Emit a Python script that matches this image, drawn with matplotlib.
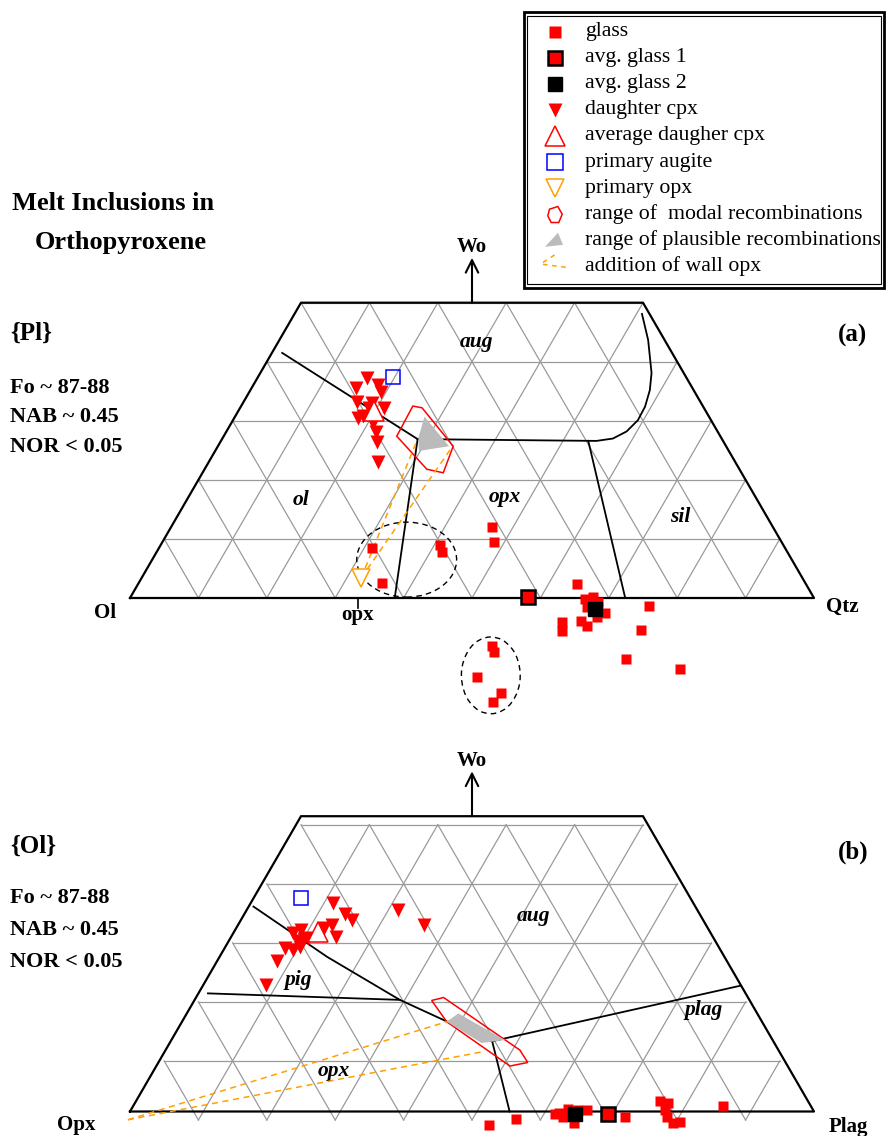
import numpy as np
import matplotlib
matplotlib.use("Agg")
import matplotlib.pyplot as plt
from matplotlib.patches import Polygon, Ellipse, Rectangle

plt.rcParams["font.family"] = "Liberation Serif"

# ---- panel (a): {Pl} projection, corners Ol - Qtz - Wo (values in %) ----
a_glass_wo = [8.5, 2.5, 9.0, 7.8, 12.0, 9.5, 2.4, -0.2, 0.2, -1.5, -2.5, -3.2, -3.9, -4.7,
              -4.1, -5.6, -1.4, -5.4, -10.3, -12.0, -0.7, -0.3, -8.1, -9.1, -13.4, -16.1, -17.6]
a_glass_qtz = [31.1, 35.6, 40.8, 41.7, 46.9, 48.5, 64.2, 66.6, 67.6, 67.6, 70.7, 69.9, 67.9, 69.2,
               65.2, 66.0, 76.6, 77.4, 77.7, 86.4, 68.8, 67.4, 57.0, 57.8, 57.4, 62.3, 61.9]
a_avg_glass1 = (0.2, 58.1)     # (Wo, Qtz)
a_avg_glass2 = (-1.9, 68.9)
a_cpx_wo = [37.3, 36.1, 35.6, 34.9, 33.2, 33.0, 32.2, 30.5, 30.8, 29.6, 28.1, 26.4, 23.0, 32.2]
a_cpx_qtz = [16.0, 18.2, 15.3, 19.3, 16.6, 18.9, 21.0, 18.1, 18.7, 20.7, 21.9, 22.9, 24.7, 18.9]
a_avg_cpx = (31.7, 19.8)
a_augite = (37.4, 19.7)
a_opx = (3.4, 32.1)
a_modal_wo = [32.5, 32.2, 25.7, 21.2, 21.8, 27.4]
a_modal_qtz = [25.1, 26.6, 34.4, 35.2, 32.5, 25.3]
a_plaus_wo = [27.1, 30.7, 25.7, 24.9]
a_plaus_qtz = [28.6, 27.7, 33.8, 29.8]
a_wall_wo = [26.8, 25.6]
a_wall_qtz = [28.6, 34.3]
a_bounds = {
    "ol-cpx": ([41.5, 26.9], [1.5, 28.6]),
    "opx-aug": ([26.9, 26.6, 27.0, 28.2, 30.1, 32.4, 35.2, 38.1, 43.7, 48.1],
                [28.6, 54.9, 57.1, 58.5, 59.2, 59.1, 58.4, 57.2, 53.9, 50.8]),
    "ol-opx": ([26.9, 0.0], [28.6, 38.7]),
    "opx-sil": ([26.6, 0.0], [53.7, 72.4]),
}
a_fields = {"aug": (43.4, 28.9), "ol": (16.6, 16.7), "opx": (17.1, 46.3), "sil": (13.7, 73.6)}

# ---- panel (b): {Ol} projection, corners Opx - Plag - Wo (values in %) ----
b_glass_wo = [-2.3, -1.2, -0.3, 0.4, 0.3, 0.3, -1.9, -0.9, -1.0, 1.7, 1.4, 0.3, -0.9, -2.0,
              -1.7, 0.9, -0.4]
b_glass_plag = [53.7, 57.0, 62.8, 63.9, 65.4, 66.6, 65.8, 63.8, 72.9, 76.7, 78.0, 78.1, 78.9,
                80.4, 81.3, 86.2, 62.3]
b_avg_glass1 = (-0.5, 70.2)
b_avg_glass2 = (-0.5, 65.3)
b_cpx_wo = [35.3, 33.4, 32.4, 34.1, 31.6, 31.6, 31.0, 29.6, 30.2, 30.7, 29.2, 28.8, 27.6, 27.4,
            27.8, 25.5, 21.5, 29.4]
b_cpx_plag = [12.0, 14.7, 16.3, 22.2, 27.2, 13.7, 12.8, 15.3, 8.8, 9.7, 10.8, 10.2, 8.8, 10.2,
              11.0, 8.8, 9.1, 11.3]
b_avg_cpx = (30.4, 12.3)
b_augite = (36.2, 6.9)
b_opx = (-1.4, 0.4)
b_modal_wo = [18.8, 19.3, 10.4, 8.3, 7.7, 15.2]
b_modal_plag = [34.7, 36.2, 51.8, 54.0, 51.7, 38.7]
b_plaus_wo = [15.2, 16.6, 12.1, 11.6]
b_plaus_plag = [38.7, 39.7, 48.8, 45.6]
b_wall_wo = [15.8, 10.1]
b_wall_plag = [40.1, 46.4]
b_bounds = {
    "aug-pig": ([34.7, 26.2, 18.9, 15.2, 11.9], [0.7, 15.7, 30.0, 38.8, 47.0]),
    "pig-opx": ([20.0, 18.9], [1.4, 30.0]),
    "aug-plag": ([11.9, 21.3], [47.0, 78.6]),
    "opx-plag": ([11.9, 0.0], [47.0, 55.5]),
}
b_fields = {"aug": (33.1, 42.4), "pig": (22.3, 13.4), "opx": (6.9, 26.3), "plag": (17.2, 75.2)}

FIG_W, FIG_H = 886, 1136
LEFT_PX, SIDE_PX, TRI_H_PX = 130, 684, 590.6
RED, ORANGE, GREY = "#ff0000", "#ffa000", "#bbbbbb"


def to_xy(wo, b):
    """ternary (Wo %, right-corner %) -> cartesian (along base, height)"""
    wo = np.asarray(wo, float)
    b = np.asarray(b, float)
    return (b + wo / 2) / 100, wo / 100


fig = plt.figure(figsize=(FIG_W / 100, FIG_H / 100), dpi=100)


def panel_axes(base_px):
    ax = fig.add_axes([0, 0, 1, 1])
    ax.set_xlim(-LEFT_PX / SIDE_PX, (FIG_W - LEFT_PX) / SIDE_PX)
    ax.set_ylim((base_px - FIG_H) / TRI_H_PX, base_px / TRI_H_PX)
    ax.axis("off")
    return ax


def draw_frame(ax, grid_shift=0.0):
    grid_kw = dict(color="#9a9a9a", lw=0.9, zorder=1)
    for k in np.arange(1, 10) / 10:
        top = min(0.5, 1 - k)
        ax.plot([k, k + top / 2], [grid_shift, top + grid_shift], **grid_kw)
        ax.plot([1 - k, 1 - k - top / 2], [grid_shift, top + grid_shift], **grid_kw)
        if k <= 0.5:
            ax.plot([k / 2, 1 - k / 2], [k + grid_shift] * 2, **grid_kw)
    ax.plot([0, 1, 0.75, 0.25, 0], [0, 0, 0.5, 0.5, 0], color="black", lw=1.6, zorder=3)
    ax.annotate("", xy=(0.5, 0.576), xytext=(0.5, 0.5),
                arrowprops=dict(arrowstyle="->,head_length=0.9,head_width=0.45", lw=1.5,
                                color="black", shrinkA=0, shrinkB=0))
    ax.text(0.5, 0.594, "Wo", ha="center", va="center", fontsize=15, fontweight="bold")


def draw_panel(ax, glass, avg1, avg2, cpx, avg_cpx, augite, modal, plaus, wall, opx, bounds, fields):
    for wo, b in bounds.values():
        ax.plot(*to_xy(wo, b), color="black", lw=1.3, zorder=3)
    for name, (wo, b) in fields.items():
        ax.text(*to_xy(wo, b), name, ha="center", va="center", fontsize=15.5,
                fontweight="bold", style="italic")
    ax.add_patch(Polygon(np.column_stack(to_xy(*modal)), closed=True, fill=False,
                         edgecolor=RED, lw=1.1, zorder=4))
    ax.add_patch(Polygon(np.column_stack(to_xy(*plaus)), closed=True, facecolor=GREY,
                         edgecolor="none", zorder=5))
    for wo, b in zip(*wall):
        ax.plot(*to_xy([opx[0], wo], [opx[1], b]), color=ORANGE, lw=1.1, ls=(0, (4, 3)), zorder=4)
    ax.plot(*to_xy(*glass), "s", color=RED, ms=7.2, mec="none", zorder=6)
    ax.plot(*to_xy(*avg1), "s", mfc=RED, mec="black", mew=1.8, ms=10.5, zorder=7)
    ax.plot(*to_xy(*avg2), "s", color="black", ms=10, zorder=7)
    ax.plot(*to_xy(*cpx), "v", color=RED, ms=10, mec="none", zorder=6)
    ax.plot(*to_xy(*avg_cpx), "^", mfc="white", mec=RED, mew=1.1, ms=14, zorder=7)
    ax.plot(*to_xy(*augite), "s", mfc="none", mec="blue", mew=1.1, ms=10.5, zorder=7)


# panel (a)
ax_a = panel_axes(598)
draw_frame(ax_a)
draw_panel(ax_a, (a_glass_wo, a_glass_qtz), a_avg_glass1, a_avg_glass2,
           (a_cpx_wo, a_cpx_qtz), a_avg_cpx, a_augite, (a_modal_wo, a_modal_qtz),
           (a_plaus_wo, a_plaus_qtz), (a_wall_wo, a_wall_qtz), a_opx, a_bounds, a_fields)
ax_a.plot(*to_xy(*a_opx), "v", mfc="white", mec=ORANGE, mew=1.1, ms=13, zorder=7)
for (wo, qtz), w, h in [((6.5, 37.2), 0.146, 0.127), ((-13.1, 59.3), 0.086, 0.130)]:
    ax_a.add_patch(Ellipse(to_xy(wo, qtz), w, h, fill=False, edgecolor="black", lw=1.0,
                           ls=(0, (4, 3)), zorder=2))
ax_a.plot([0.333, 0.333], [0, -0.017], color="black", lw=1.2)
ax_a.text(0.333, -0.028, "opx", ha="center", va="center", fontsize=15, fontweight="bold")
ax_a.text(-0.036, -0.025, "Ol", ha="center", va="center", fontsize=15, fontweight="bold")
ax_a.text(1.042, -0.015, "Qtz", ha="center", va="center", fontsize=15, fontweight="bold")

# panel (b)
ax_b = panel_axes(1111.5)
draw_frame(ax_b, grid_shift=-0.0144)
draw_panel(ax_b, (b_glass_wo, b_glass_plag), b_avg_glass1, b_avg_glass2,
           (b_cpx_wo, b_cpx_plag), b_avg_cpx, b_augite, (b_modal_wo, b_modal_plag),
           (b_plaus_wo, b_plaus_plag), (b_wall_wo, b_wall_plag), b_opx, b_bounds, b_fields)
ax_b.text(-0.079, -0.023, "Opx", ha="center", va="center", fontsize=15, fontweight="bold")
ax_b.text(1.05, -0.026, "Plag", ha="center", va="center", fontsize=15, fontweight="bold")

# notes and legend, in figure pixels
ov = fig.add_axes([0, 0, 1, 1])
ov.set_xlim(0, FIG_W)
ov.set_ylim(FIG_H, 0)
ov.axis("off")

bold = dict(fontweight="bold", va="center")
ov.text(113, 203, "Melt Inclusions in", ha="center", fontsize=19, **bold)
ov.text(121, 242, "Orthopyroxene", ha="center", fontsize=19, **bold)
for dy, proj in [(0, "{Pl}"), (513, "{Ol}")]:
    ov.text(10, 333 + dy, proj, ha="left", fontsize=18, **bold)
for y, note in zip([388, 417, 447], ["Fo ~ 87-88", "NAB ~ 0.45", "NOR < 0.05"]):
    ov.text(10, y, note, ha="left", fontsize=16, **bold)
for y, note in zip([898, 930, 962], ["Fo ~ 87-88", "NAB ~ 0.45", "NOR < 0.05"]):
    ov.text(10, y, note, ha="left", fontsize=16, **bold)
ov.text(853, 335, "(a)", ha="center", fontsize=18, **bold)
ov.text(853, 852, "(b)", ha="center", fontsize=18, **bold)

ov.add_patch(Rectangle((524, 12), 360.5, 275.5, fill=False, edgecolor="black", lw=2.0))
ov.add_patch(Rectangle((527.5, 15.5), 353.5, 268.5, fill=False, edgecolor="black", lw=0.8))
labels = ["glass", "avg. glass 1", "avg. glass 2", "daughter cpx", "average daugher cpx",
          "primary augite", "primary opx", "range of  modal recombinations",
          "range of plausible recombinations", "addition of wall opx"]
kx, tx = 555, 585
rows = [31.5 + 26.1 * i for i in range(len(labels))]
for y, lab in zip(rows, labels):
    ov.text(tx, y, lab, ha="left", va="center", fontsize=15.7)
ov.plot(kx, rows[0], "s", color=RED, ms=9, mec="none")
ov.plot(kx, rows[1], "s", mfc=RED, mec="black", mew=1.8, ms=10.5)
ov.plot(kx, rows[2], "s", color="black", ms=9.5)
ov.plot(kx, rows[3], "v", color=RED, ms=10, mec="none")
ov.plot(kx, rows[4], "^", mfc="white", mec=RED, mew=1.1, ms=14.5)
ov.plot(kx, rows[5], "s", mfc="none", mec="blue", mew=1.1, ms=11.5)
ov.plot(kx, rows[6], "v", mfc="white", mec=ORANGE, mew=1.1, ms=13)
hexagon = np.array([(-5.5, -5), (2.8, -7.7), (7.2, 0), (3.8, 8.3), (-3.8, 8.3), (-7.2, 1.7)])
ov.add_patch(Polygon(hexagon + [kx, rows[7]], closed=True, fill=False, edgecolor=RED, lw=1.1))
wedge = np.array([(-10, 6.5), (3, -7.5), (8, 4.5)])
ov.add_patch(Polygon(wedge + [kx, rows[8]], closed=True, facecolor=GREY, edgecolor="none"))
ov.plot([543, 557], [rows[9] - 4, rows[9] - 13], color=ORANGE, lw=1.1, ls=(0, (3, 3)))
ov.plot([543, 567], [rows[9] - 2, rows[9] + 1], color=ORANGE, lw=1.1, ls=(0, (3, 3)))

fig.savefig("out.png", dpi=100)
